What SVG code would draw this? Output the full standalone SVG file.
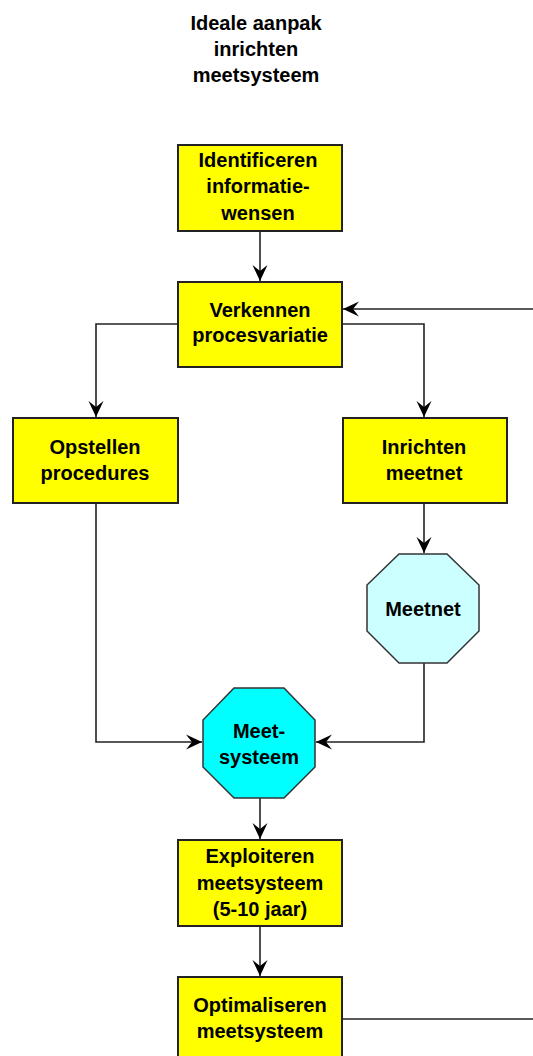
<svg xmlns="http://www.w3.org/2000/svg" width="533" height="1056" viewBox="0 0 533 1056">
<defs>
<style>
.box{fill:#FFFF00;stroke:#222;stroke-width:2}
.oct1{fill:#CCFFFF;stroke:#333;stroke-width:1.5}
.oct2{fill:#00FFFF;stroke:#333;stroke-width:1.5}
.t{font-family:"Liberation Sans",Arial,sans-serif;font-weight:bold;font-size:20px;fill:#000;text-anchor:middle}
.c{fill:none;stroke:#222;stroke-width:1.6}
</style>
<marker id="ah" markerUnits="userSpaceOnUse" markerWidth="18" markerHeight="16" viewBox="-16 -8 18 16" refX="0" refY="0" orient="auto">
<path d="M0,0 L-16,-7.5 L-10,0 L-16,7.5 Z" fill="#000"/>
</marker>
</defs>
<rect width="533" height="1056" fill="#fff"/>
<g id="title">
<text class="t" x="256" y="30">Ideale aanpak</text>
<text class="t" x="256" y="56">inrichten</text>
<text class="t" x="256" y="82">meetsysteem</text>
</g>
<g id="connectors">
<path class="c" d="M260,231 V281" marker-end="url(#ah)"/>
<path class="c" d="M533,309 H343" marker-end="url(#ah)"/>
<path class="c" d="M178,324 H96 V417" marker-end="url(#ah)"/>
<path class="c" d="M342,324 H424 V417" marker-end="url(#ah)"/>
<path class="c" d="M424,503 V553" marker-end="url(#ah)"/>
<path class="c" d="M96,503 V742 H202" marker-end="url(#ah)"/>
<path class="c" d="M424,663 V742 H316" marker-end="url(#ah)"/>
<path class="c" d="M260,798 V839" marker-end="url(#ah)"/>
<path class="c" d="M260,926 V976" marker-end="url(#ah)"/>
<path class="c" d="M342,1019 H533"/>
</g>
<g id="identificeren">
<rect class="box" x="178" y="145" width="164" height="86"/>
<text class="t" x="258" y="167">Identificeren</text>
<text class="t" x="258" y="193">informatie-</text>
<text class="t" x="258" y="220">wensen</text>
</g>
<g id="verkennen">
<rect class="box" x="178" y="282" width="164" height="85"/>
<text class="t" x="260" y="317">Verkennen</text>
<text class="t" x="260" y="342">procesvariatie</text>
</g>
<g id="opstellen">
<rect class="box" x="13" y="418" width="165" height="85"/>
<text class="t" x="95" y="454">Opstellen</text>
<text class="t" x="95" y="480">procedures</text>
</g>
<g id="inrichten">
<rect class="box" x="343" y="418" width="164" height="85"/>
<text class="t" x="424" y="454">Inrichten</text>
<text class="t" x="424" y="480">meetnet</text>
</g>
<g id="meetnet">
<polygon class="oct1" points="399,554 447,554 479,585 479,631 447,663 399,663 367,631 367,585"/>
<text class="t" x="423" y="616">Meetnet</text>
</g>
<g id="meetsysteem">
<polygon class="oct2" points="234,688 284,688 315,720 315,767 284,798 234,798 203,767 203,720"/>
<text class="t" x="259" y="738">Meet-</text>
<text class="t" x="259" y="764">systeem</text>
</g>
<g id="exploiteren">
<rect class="box" x="178" y="840" width="164" height="86"/>
<text class="t" x="260" y="863">Exploiteren</text>
<text class="t" x="260" y="890">meetsysteem</text>
<text class="t" x="260" y="916">(5-10 jaar)</text>
</g>
<g id="optimaliseren">
<rect class="box" x="178" y="977" width="164" height="86"/>
<text class="t" x="260" y="1012">Optimaliseren</text>
<text class="t" x="260" y="1038">meetsysteem</text>
</g>
</svg>
